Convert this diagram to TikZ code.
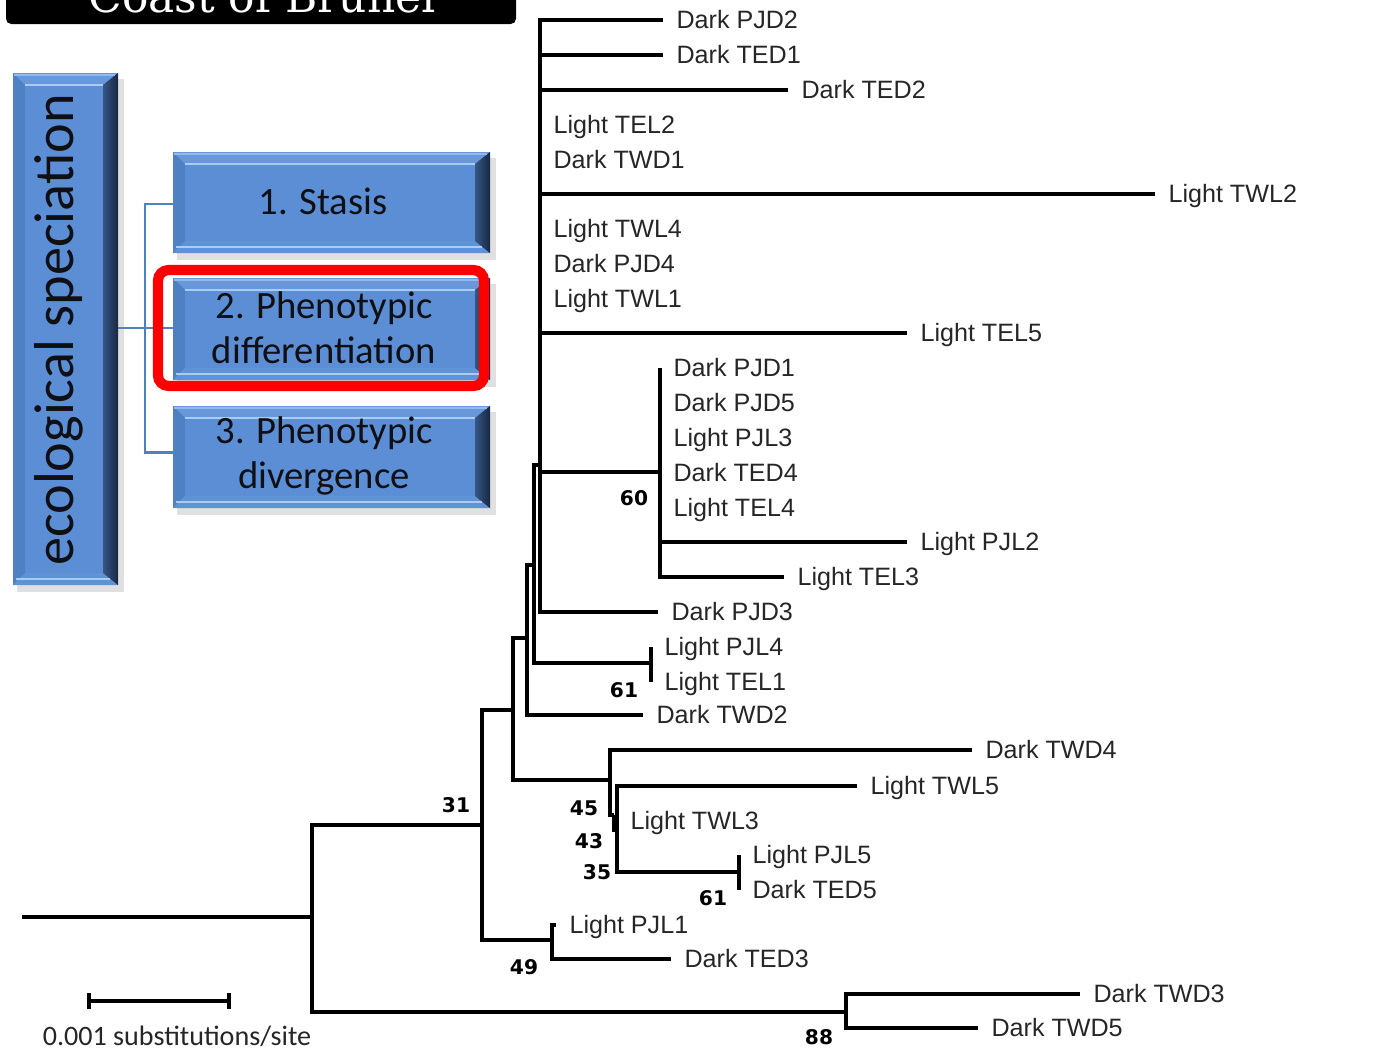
\documentclass[tikz,border=0pt]{standalone}
\usepackage{fontspec}
\setmainfont{Liberation Sans}
\newfontfamily\boxfont{Carlito}
\newfontfamily\bsfont{DejaVu Sans}
\newfontfamily\titlefont{DejaVu Serif}
\usetikzlibrary{calc}
\definecolor{boxface}{RGB}{92,142,214}
\definecolor{boxtop}{RGB}{104,152,218}
\definecolor{boxleft}{RGB}{80,128,196}
\definecolor{boxbottom}{RGB}{96,146,214}
\definecolor{boxlight}{RGB}{168,204,242}
\definecolor{boxdark}{RGB}{24,40,66}
\definecolor{linkblue}{RGB}{79,129,189}
\definecolor{markred}{RGB}{255,0,0}
\definecolor{boxtext}{RGB}{16,16,20}

% bevelled panel: x1, y1 (top left), x2, y2 (bottom right)
\newcommand{\bevelbox}[4]{%
  \fill[black, opacity=0.12] (#1+4,#2+6) rectangle (#3+6,#4+7);
  \fill[boxface] (#1,#2) rectangle (#3,#4);
  \fill[boxtop] (#1,#2) -- (#3,#2) -- (#3-15,#2+12) -- (#1+12,#2+12) -- cycle;
  \fill[boxleft] (#1,#2) -- (#1+12,#2+12) -- (#1+12,#4-12) -- (#1,#4) -- cycle;
  \fill[boxbottom] (#1,#4) -- (#1+12,#4-12) -- (#3-15,#4-12) -- (#3,#4) -- cycle;
  \shade[left color=boxdark!55!boxface, right color=boxdark] (#3,#2) -- (#3,#4) -- (#3-15,#4-12) -- (#3-15,#2+12) -- cycle;
  \draw[boxlight, line width=1.2pt] (#1+12,#2+12) -- (#3-15,#2+12);
  \draw[boxlight, line width=1.6pt] (#1+3,#4-6) -- (#3-8,#4-6);
  \draw[boxlight!70!boxface, line width=1pt] (#1+1,#2+2) -- (#3-3,#2+2);
}

\begin{document}
\begin{tikzpicture}[
  x=0.02cm, y=-0.02cm,
  branch/.style={line width=1.9pt, black},
  leaf/.style={anchor=west, inner xsep=7.5pt, inner ysep=0pt, text height=10.2pt, text depth=0pt,
    font=\fontsize{14.3}{17}\selectfont, text=black!85},
  boot/.style={font=\bsfont\bfseries\fontsize{11.5}{13}\selectfont, inner sep=0pt},
  panel/.style={font=\boxfont\fontsize{22}{25.5}\selectfont, align=center, text=boxtext},
  link/.style={linkblue, line width=1.7pt},
]
  \useasboundingbox (0,0) rectangle (1374,1052);

  % title bar, cut by the page edge
  \begin{scope}
    \clip (0,0) rectangle (1374,1052);
    \fill[black, rounded corners=3pt] (6,-30) rectangle (516,24);
    \node[anchor=base, text=white, font=\titlefont\fontsize{25}{29}\selectfont] (title) at (262,12) {Coast of Brunei};
  \end{scope}

  % panels
  \bevelbox{13}{73}{118}{585}
  \node[panel, rotate=90, font=\boxfont\fontsize{32}{38}\selectfont] (eco) at (59,330) {ecological speciation};
  \bevelbox{173}{152}{490}{253}
  \node[panel] (stasis) at (323,201) {1. Stasis};
  \bevelbox{173}{278}{490}{380}
  \node[panel] (pdiff) at (324,328) {2. Phenotypic\\differentiation};
  \bevelbox{173}{406}{490}{508}
  \node[panel] (pdiv) at (324,456) {3. Phenotypic\\divergence};

  \coordinate (fork) at (145,328);
  \draw[link] (118,328) -- (173,328);
  \draw[link] (fork) |- (173,204);
  \draw[link] (fork) |- (173,452);

  \draw[markred, line width=5.8pt, rounded corners=6pt] (158,270) rectangle (484,386);

  % internal nodes
  \coordinate (base) at (22,917);
  \coordinate (nroot) at (312,917);
  \coordinate (n31) at (482,825);
  \coordinate (n88) at (846,1012);
  \coordinate (n49) at (552,940);
  \coordinate (nA) at (513,710);
  \coordinate (nB) at (527,638);
  \coordinate (nC) at (534,565);
  \coordinate (npoly) at (540,465);
  \coordinate (n60) at (660,472);
  \coordinate (n61a) at (651,663);
  \coordinate (n45) at (610,780);
  \coordinate (n43) at (614,815);
  \coordinate (n35) at (617,830);
  \coordinate (n61b) at (739,872);

  % leaves
  \node[leaf] (pjd2) at (663,20) {Dark PJD2};
  \node[leaf] (ted1) at (663,55) {Dark TED1};
  \node[leaf] (ted2) at (788,90) {Dark TED2};
  \node[leaf] (tel2) at (540,125) {Light TEL2};
  \node[leaf] (twd1) at (540,160) {Dark TWD1};
  \node[leaf] (twl2) at (1155,194) {Light TWL2};
  \node[leaf] (twl4) at (540,229) {Light TWL4};
  \node[leaf] (pjd4) at (540,264) {Dark PJD4};
  \node[leaf] (twl1) at (540,299) {Light TWL1};
  \node[leaf] (tel5) at (907,333) {Light TEL5};
  \node[leaf] (pjd1) at (660,368) {Dark PJD1};
  \node[leaf] (pjd5) at (660,403) {Dark PJD5};
  \node[leaf] (pjl3) at (660,438) {Light PJL3};
  \node[leaf] (ted4) at (660,473) {Dark TED4};
  \node[leaf] (tel4) at (660,508) {Light TEL4};
  \node[leaf] (pjl2) at (907,542) {Light PJL2};
  \node[leaf] (tel3) at (784,577) {Light TEL3};
  \node[leaf] (pjd3) at (658,612) {Dark PJD3};
  \node[leaf] (pjl4) at (651,647) {Light PJL4};
  \node[leaf] (tel1) at (651,682) {Light TEL1};
  \node[leaf] (twd2) at (643,715) {Dark TWD2};
  \node[leaf] (twd4) at (972,750) {Dark TWD4};
  \node[leaf] (twl5) at (857,786) {Light TWL5};
  \node[leaf] (twl3) at (617,821) {Light TWL3};
  \node[leaf] (pjl5) at (739,855) {Light PJL5};
  \node[leaf] (ted5) at (739,890) {Dark TED5};
  \node[leaf] (pjl1) at (556,925) {Light PJL1};
  \node[leaf] (ted3) at (671,959) {Dark TED3};
  \node[leaf] (twd3) at (1080,994) {Dark TWD3};
  \node[leaf] (twd5) at (978,1028) {Dark TWD5};

  % branches
  \draw[branch] (base) -- (nroot);
  \draw[branch] (nroot) |- (n31);
  \draw[branch] (nroot) |- (n88);
  \draw[branch] (n88) |- (twd3.west);
  \draw[branch] (n88) |- (twd5.west);
  \draw[branch] (n31) |- (nA);
  \draw[branch] (n31) |- (n49);
  \draw[branch] (n49) |- (pjl1.west);
  \draw[branch] (n49) |- (ted3.west);
  \draw[branch] (nA) |- (nB);
  \draw[branch] (nA) |- (n45);
  \draw[branch] (nB) |- (nC);
  \draw[branch] (nB) |- (twd2.west);
  \draw[branch] (nC) |- (npoly);
  \draw[branch] (nC) |- (n61a);
  \draw[branch] (pjl4.west) -- (tel1.west);
  \foreach \t in {pjd2,ted1,ted2,twl2,tel5,pjd3}
    \draw[branch] (npoly) |- (\t.west);
  \draw[branch] (npoly) |- (n60);
  \draw[branch] (n60) -- (pjd1.west);
  \draw[branch] (n60) |- (pjl2.west);
  \draw[branch] (n60) |- (tel3.west);
  \draw[branch] (n45) |- (twd4.west);
  \draw[branch] (n45) |- (n43);
  \draw[branch] (n43) |- (n35);
  \draw[branch] (n35) |- (twl5.west);
  \draw[branch] (n35) |- (n61b);
  \draw[branch] (pjl5.west) -- (ted5.west);

  % support values
  \node[boot] (b31) at (456,805) {31};
  \node[boot] (b88) at (819,1037) {88};
  \node[boot] (b49) at (524,967) {49};
  \node[boot] (b60) at (634,498) {60};
  \node[boot] (b61a) at (624,690) {61};
  \node[boot] (b45) at (584,808) {45};
  \node[boot] (b43) at (589,841) {43};
  \node[boot] (b35) at (597,872) {35};
  \node[boot] (b61b) at (713,898) {61};

  % scale bar
  \coordinate (sbl) at (89,1001);
  \coordinate (sbr) at (229,1001);
  \draw[branch] (sbl) -- (sbr);
  \draw[branch] ($(sbl)+(0,-8)$) -- ($(sbl)+(0,8)$);
  \draw[branch] ($(sbr)+(0,-8)$) -- ($(sbr)+(0,8)$);
  \node[font=\boxfont\fontsize{16}{19}\selectfont, text=black!85] (scale) at (177,1036) {0.001 substitutions/site};
\end{tikzpicture}
\end{document}
